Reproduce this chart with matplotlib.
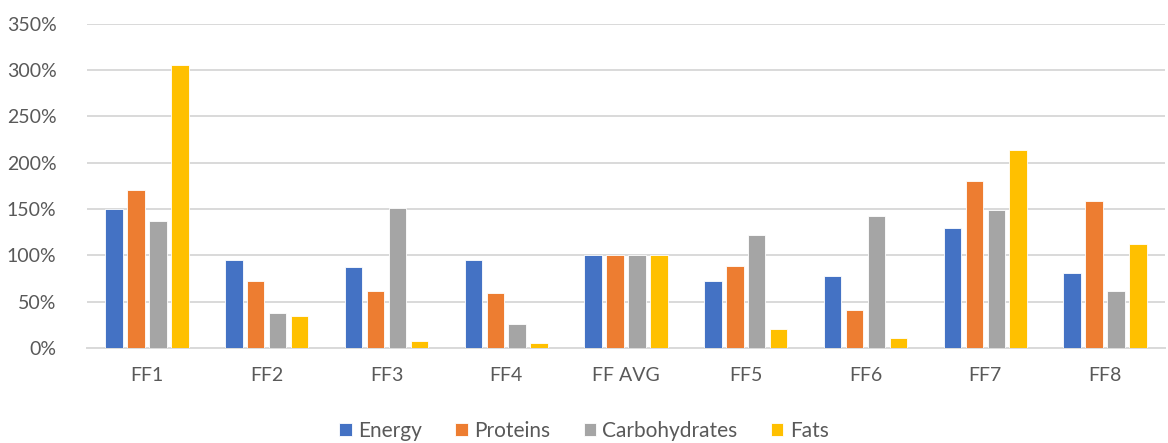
import numpy as np
import matplotlib.pyplot as plt
from matplotlib.ticker import PercentFormatter

plt.rcParams['font.family'] = ['Lato', 'DejaVu Sans']

# Percentages relative to the average
groupes = ["FF1", "FF2", "FF3", "FF4", "FF AVG", "FF5", "FF6", "FF7", "FF8"]
energy = [150, 95, 87, 95, 100, 72, 78, 130, 81]
proteins = [170, 72, 61, 59, 100, 89, 41, 180, 159]
carbohydrates = [137, 38, 151, 26, 100, 122, 142, 149, 61]
fats = [305, 34, 8, 5, 100, 21, 11, 214, 112]

series = [("Energy", energy, "#4472C4"),
          ("Proteins", proteins, "#ED7D31"),
          ("Carbohydrates", carbohydrates, "#A5A5A5"),
          ("Fats", fats, "#FFC000")]

fig = plt.figure(figsize=(11.68, 4.43), dpi=100)
ax = fig.add_axes([87/1168, 1-348/443, 1-87/1168-3/1168, (348-23.7)/443])

x = np.arange(len(groupes))
pas = 0.183
largeur = 0.146
for i, (nom, vals, couleur) in enumerate(series):
    ax.bar(x + (i-1.5)*pas, vals, largeur, color=couleur, label=nom,
           edgecolor="white", linewidth=0.6, zorder=3)

ax.set_xlim(-0.5, len(groupes)-0.5)
ax.set_ylim(0, 350)
ax.set_yticks(np.arange(0, 351, 50))
ax.yaxis.set_major_formatter(PercentFormatter(decimals=0))
ax.grid(axis='y', color="#d9d9d9", linewidth=1.4, zorder=0)
ax.set_xticks(x)
ax.set_xticklabels(groupes)

for s in ["top", "right", "left"]:
    ax.spines[s].set_visible(False)
ax.spines["bottom"].set_color("#d9d9d9")
ax.spines["bottom"].set_linewidth(1.4)
ax.tick_params(axis='both', length=0, colors="#595959", labelsize=14)
ax.tick_params(axis='x', pad=14)
ax.tick_params(axis='y', pad=22)

# legende sous le graphique
fig.legend(loc="center", bbox_to_anchor=(0.5, 1-431/443), ncol=4,
           frameon=False, fontsize=15, labelcolor="#595959",
           handlelength=0.6, handleheight=0.6, handletextpad=0.3,
           columnspacing=1.6, borderpad=0)

plt.savefig("out.png", dpi=100)
